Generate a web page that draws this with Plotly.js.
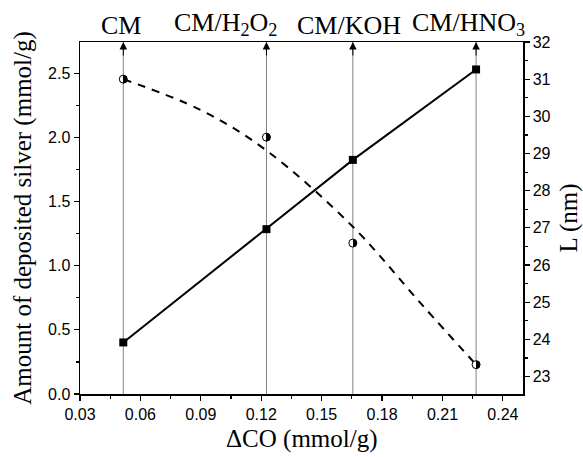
<!DOCTYPE html>
<html>
<head>
<meta charset="utf-8">
<script src="https://cdn.plot.ly/plotly-3.0.1.min.js"></script>
<style>html,body{margin:0;padding:0;background:#fff;}#chart{width:583px;height:457px;}</style>
</head>
<body>
<div id="chart"></div>
<script>
// Samples
var sampleNames = ["CM", "CM/H<sub>2</sub>O<sub>2</sub>", "CM/KOH", "CM/HNO<sub>3</sub>"];
var deltaCO = [0.0515, 0.1226, 0.1655, 0.2267];          // mmol/g
var silver = [0.402, 1.285, 1.825, 2.53];                 // mmol/g (left axis)
var crystalL = [31.0, 29.44, 26.59, 23.32];               // nm (right axis)
// Dashed fitted curve for L
var fitX = [0.0515, 0.09, 0.1226, 0.1655, 0.2, 0.2267];
var fitL = [31.0, 30.17, 29.08, 27.03, 24.92, 23.32];

var yMax = 2.744;
var serif = "Liberation Serif, Times New Roman, serif";
var sans = "Liberation Sans, Arial, sans-serif";

var traces = [
  {x: fitX, y: fitL, yaxis: "y2", mode: "lines", type: "scatter",
   line: {color: "#000", width: 2, dash: "8px,7px", shape: "spline"}, hoverinfo: "skip"},
  {x: deltaCO, y: silver, mode: "lines+markers", type: "scatter",
   line: {color: "#000", width: 2},
   marker: {symbol: "square", size: 8, color: "#000"}},
  {x: deltaCO, y: crystalL, yaxis: "y2", mode: "markers", type: "scatter",
   marker: {symbol: "circle", size: 8, color: "#fff",
            gradient: {type: "horizontal", color: "#000"},
            line: {color: "#000", width: 1}}}
];

var shapes = deltaCO.map(function (x) {
  return {type: "line", xref: "x", yref: "y", x0: x, x1: x, y0: 0, y1: yMax,
          line: {color: "#808080", width: 1}, layer: "below"};
});

// horizontal pixel offsets of the top labels relative to their lines
var labelShift = [-2, -41, -4, -8];
var annotations = [];
deltaCO.forEach(function (x, i) {
  annotations.push({x: x, y: yMax, xref: "x", yref: "y", text: "", showarrow: true,
    ax: 0, ay: 15, arrowhead: 2, arrowsize: 1.5, arrowwidth: 1, arrowcolor: "#000"});
  annotations.push({x: x, y: 1, xref: "x", yref: "paper", text: sampleNames[i],
    showarrow: false, yanchor: "bottom", yshift: 0, xshift: labelShift[i],
    font: {family: serif, size: 26, color: "#000"}});
});
// x-axis title (placed as annotation so it can sit at the very bottom like the reference)
annotations.push({x: 0.5, y: 0, xref: "paper", yref: "paper", text: "ΔCO (mmol/g)",
  showarrow: false, yanchor: "top", yshift: -29,
  font: {family: serif, size: 25, color: "#000"}});

var layout = {
  width: 583, height: 457,
  margin: {l: 80, r: 60, t: 42, b: 63},
  paper_bgcolor: "#fff", plot_bgcolor: "#fff",
  showlegend: false,
  font: {family: sans, color: "#000"},
  xaxis: {
    range: [0.03, 0.25], tick0: 0.03, dtick: 0.03, tickformat: ".2f",
    ticks: "outside", ticklen: 5, tickwidth: 1.2, tickcolor: "#000",
    minor: {dtick: 0.015, ticks: "outside", ticklen: 3, tickcolor: "#000", showgrid: false},
    showline: true, linecolor: "#000", linewidth: 1.5, mirror: true,
    showgrid: false, zeroline: false,
    tickfont: {family: sans, size: 16, color: "#000"}
  },
  yaxis: {
    range: [0, yMax], tick0: 0, dtick: 0.5, tickformat: ".1f",
    ticks: "outside", ticklen: 5, tickwidth: 1.2, tickcolor: "#000",
    minor: {dtick: 0.25, ticks: "outside", ticklen: 3, tickcolor: "#000", showgrid: false},
    showline: true, linecolor: "#000", linewidth: 1.5,
    showgrid: false, zeroline: false,
    tickfont: {family: sans, size: 16, color: "#000"},
    title: {text: "Amount of deposited silver (mmol/g)", font: {family: serif, size: 25, color: "#000"}, standoff: 9}
  },
  yaxis2: {
    overlaying: "y", side: "right",
    range: [22.53, 32], tick0: 23, dtick: 1,
    ticks: "outside", ticklen: 5, tickwidth: 1.2, tickcolor: "#000",
    minor: {dtick: 0.5, ticks: "outside", ticklen: 3, tickcolor: "#000", showgrid: false},
    showline: true, linecolor: "#000", linewidth: 1.5,
    showgrid: false, zeroline: false,
    tickfont: {family: sans, size: 16, color: "#000"},
    title: {text: "L (nm)", font: {family: serif, size: 25, color: "#000"}, standoff: 12}
  },
  shapes: shapes,
  annotations: annotations
};

Plotly.newPlot("chart", traces, layout, {displayModeBar: false, staticPlot: true}).then(function () {
  // make the circle markers half white (left) / half black (right)
  var grads = document.querySelectorAll("#chart linearGradient");
  grads.forEach(function (g) {
    g.setAttribute("x1", "0"); g.setAttribute("x2", "1");
    g.setAttribute("y1", "0"); g.setAttribute("y2", "0");
    while (g.firstChild) g.removeChild(g.firstChild);
    [[0, "#fff"], [0.5, "#fff"], [0.5, "#000"], [1, "#000"]].forEach(function (s) {
      var st = document.createElementNS("http://www.w3.org/2000/svg", "stop");
      st.setAttribute("offset", s[0]);
      st.setAttribute("stop-color", s[1]);
      g.appendChild(st);
    });
  });
});
</script>
</body>
</html>
